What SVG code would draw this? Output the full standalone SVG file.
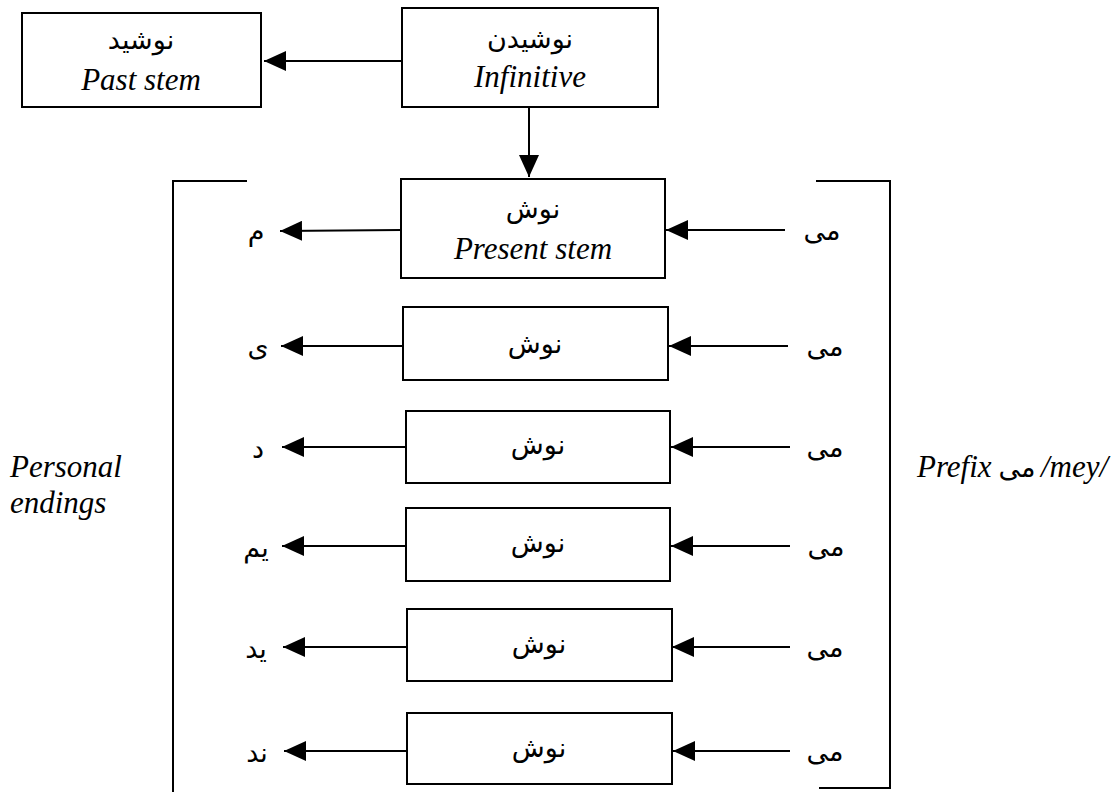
<svg xmlns="http://www.w3.org/2000/svg" width="1118" height="792" viewBox="0 0 1118 792">
<style>
.box{fill:#fff;stroke:#000;stroke-width:2}
.ln{fill:none;stroke:#000;stroke-width:2}
.en{font-family:"Liberation Serif","Times New Roman",serif;font-style:italic;font-size:31px;fill:#000}
.ar{font-family:"DejaVu Sans","Noto Sans",sans-serif;font-size:27px;fill:#000}
</style>
<defs>
<marker id="ah" markerUnits="userSpaceOnUse" markerWidth="22" markerHeight="20" refX="22" refY="10" orient="auto">
<path d="M0,0 L22,10 L0,20 z" fill="#000"/>
</marker>
</defs>
<rect width="1118" height="792" fill="#fff"/>
<g id="connectors">
<line class="ln" x1="402" y1="61" x2="264" y2="61" marker-end="url(#ah)"/>
<line class="ln" x1="529" y1="107" x2="529" y2="177" marker-end="url(#ah)"/>
<line class="ln" x1="401" y1="230" x2="280" y2="231" marker-end="url(#ah)"/>
<line class="ln" x1="403" y1="346" x2="281" y2="346" marker-end="url(#ah)"/>
<line class="ln" x1="406" y1="447" x2="282" y2="447" marker-end="url(#ah)"/>
<line class="ln" x1="408" y1="546" x2="282" y2="546" marker-end="url(#ah)"/>
<line class="ln" x1="407" y1="647" x2="283" y2="647" marker-end="url(#ah)"/>
<line class="ln" x1="407" y1="751" x2="284" y2="751" marker-end="url(#ah)"/>
<line class="ln" x1="785" y1="230" x2="666" y2="230" marker-end="url(#ah)"/>
<line class="ln" x1="788" y1="346" x2="669" y2="346" marker-end="url(#ah)"/>
<line class="ln" x1="790" y1="447" x2="671" y2="447" marker-end="url(#ah)"/>
<line class="ln" x1="790" y1="546" x2="671" y2="546" marker-end="url(#ah)"/>
<line class="ln" x1="790" y1="647" x2="672" y2="647" marker-end="url(#ah)"/>
<line class="ln" x1="790" y1="751" x2="673" y2="751" marker-end="url(#ah)"/>
</g>
<g id="brackets">
<polyline class="ln" points="247,181 173,181 173,792"/>
<polyline class="ln" points="816,181 890,181 890,788 819,788"/>
</g>
<g id="past-stem">
<rect class="box" x="22" y="13" width="239" height="94"/>
<text class="ar" x="141" y="49" text-anchor="middle" direction="rtl">نوشید</text>
<text class="en" x="141" y="90" text-anchor="middle">Past stem</text>
</g>
<g id="infinitive">
<rect class="box" x="402" y="8" width="256" height="99"/>
<text class="ar" x="530" y="48" text-anchor="middle" direction="rtl">نوشیدن</text>
<text class="en" x="530" y="87" text-anchor="middle">Infinitive</text>
</g>
<g id="present-stem">
<rect class="box" x="401" y="179" width="264" height="99"/>
<text class="ar" x="533" y="218" text-anchor="middle" direction="rtl">نوش</text>
<text class="en" x="533" y="259" text-anchor="middle">Present stem</text>
</g>
<g id="row2"><rect class="box" x="403" y="307" width="265" height="73"/><text class="ar" x="535" y="353" text-anchor="middle" direction="rtl">نوش</text></g>
<g id="row3"><rect class="box" x="406" y="411" width="264" height="72"/><text class="ar" x="538" y="454" text-anchor="middle" direction="rtl">نوش</text></g>
<g id="row4"><rect class="box" x="406" y="508" width="264" height="73"/><text class="ar" x="538" y="552" text-anchor="middle" direction="rtl">نوش</text></g>
<g id="row5"><rect class="box" x="407" y="609" width="265" height="72"/><text class="ar" x="539" y="653" text-anchor="middle" direction="rtl">نوش</text></g>
<g id="row6"><rect class="box" x="407" y="713" width="265" height="71"/><text class="ar" x="539" y="757" text-anchor="middle" direction="rtl">نوش</text></g>
<g id="endings">
<text class="ar" x="256" y="241" text-anchor="middle" direction="rtl">م</text>
<text class="ar" x="258" y="356" text-anchor="middle" direction="rtl">ی</text>
<text class="ar" x="258" y="458" text-anchor="middle" direction="rtl">د</text>
<text class="ar" x="256" y="557" text-anchor="middle" direction="rtl">یم</text>
<text class="ar" x="256" y="658" text-anchor="middle" direction="rtl">ید</text>
<text class="ar" x="257" y="762" text-anchor="middle" direction="rtl">ند</text>
</g>
<g id="prefixes">
<text class="ar" x="822" y="240" text-anchor="middle" direction="rtl">می</text>
<text class="ar" x="825" y="356" text-anchor="middle" direction="rtl">می</text>
<text class="ar" x="825" y="457" text-anchor="middle" direction="rtl">می</text>
<text class="ar" x="826" y="556" text-anchor="middle" direction="rtl">می</text>
<text class="ar" x="825" y="657" text-anchor="middle" direction="rtl">می</text>
<text class="ar" x="825" y="761" text-anchor="middle" direction="rtl">می</text>
</g>
<g id="personal-endings">
<text class="en" x="10" y="477">Personal</text>
<text class="en" x="10" y="513">endings</text>
</g>
<g id="prefix-label">
<text class="en" x="917" y="477">Prefix</text>
<text class="ar" x="1017" y="477" text-anchor="middle" direction="rtl">می</text>
<text class="en" x="1041" y="477">/mey/</text>
</g>
</svg>
